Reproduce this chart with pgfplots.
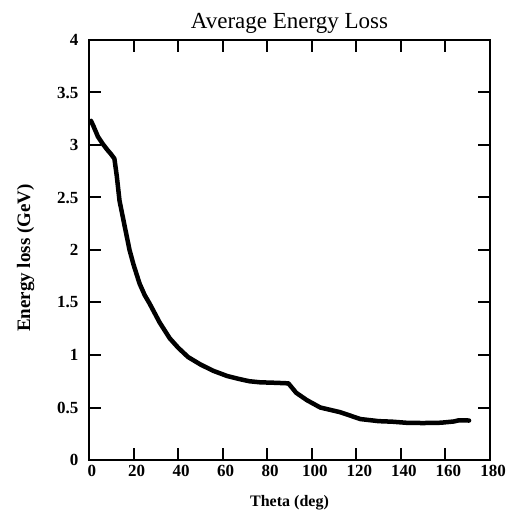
\documentclass[border=0pt]{standalone}
\usepackage{fontspec}
\setmainfont{Liberation Serif}
\usepackage{pgfplots}
\pgfplotsset{compat=1.18}
\usetikzlibrary{calc}
\begin{document}
\begin{tikzpicture}
\begin{axis}[
  scale only axis,
  width=401pt, height=420pt,
  xmin=0, xmax=180, ymin=0, ymax=4,
  xtick={0,20,...,180},
  ytick={0,0.5,...,4},
  tick align=inside,
  major tick length=12pt,
  axis line style={line width=2pt},
  every tick/.style={line width=2pt, black},
  /pgf/number format/assume math mode=true,
  tick label style={font=\fontsize{17}{19}\selectfont\bfseries},
  xticklabel style={yshift=-2pt, xshift=3pt},
  yticklabel style={xshift=-7pt},
  title={Average Energy Loss},
  title style={font=\fontsize{23}{26}\selectfont, yshift=-3pt},
  xlabel={Theta (deg)},
  ylabel={Energy loss (GeV)},
  xlabel style={font=\fontsize{16}{18}\selectfont\bfseries, yshift=-12pt},
  ylabel style={font=\fontsize{19}{21}\selectfont\bfseries, yshift=16pt, xshift=-8pt},
]
\addplot[black, line width=4.5pt, line join=round, line cap=round] coordinates {
(0.9,3.23) (2,3.18) (4,3.08) (6.2,3.01) (8,2.96) (10,2.91) (11.4,2.87)
(12.5,2.7) (13.7,2.47) (15.5,2.28) (18.2,2.0) (20,1.86) (22.7,1.68)
(25,1.57) (27.2,1.49) (31.7,1.31) (36.2,1.16) (40,1.07) (44.5,0.98)
(50,0.91) (55.7,0.85) (62,0.80) (67.7,0.77) (72,0.75) (76.8,0.74)
(84,0.735) (89.5,0.73) (93,0.64) (97.8,0.57) (103.8,0.50) (112.8,0.455)
(121.8,0.39) (130,0.37) (136,0.365) (142.8,0.354) (150,0.352) (158,0.355)
(163.8,0.367) (166,0.378) (170.6,0.376)
};
\end{axis}
\pgfresetboundingbox
\path ($(current axis.south west)+(-89pt,-59pt)$) rectangle ($(current axis.north east)+(23pt,40pt)$);
\end{tikzpicture}
\end{document}
